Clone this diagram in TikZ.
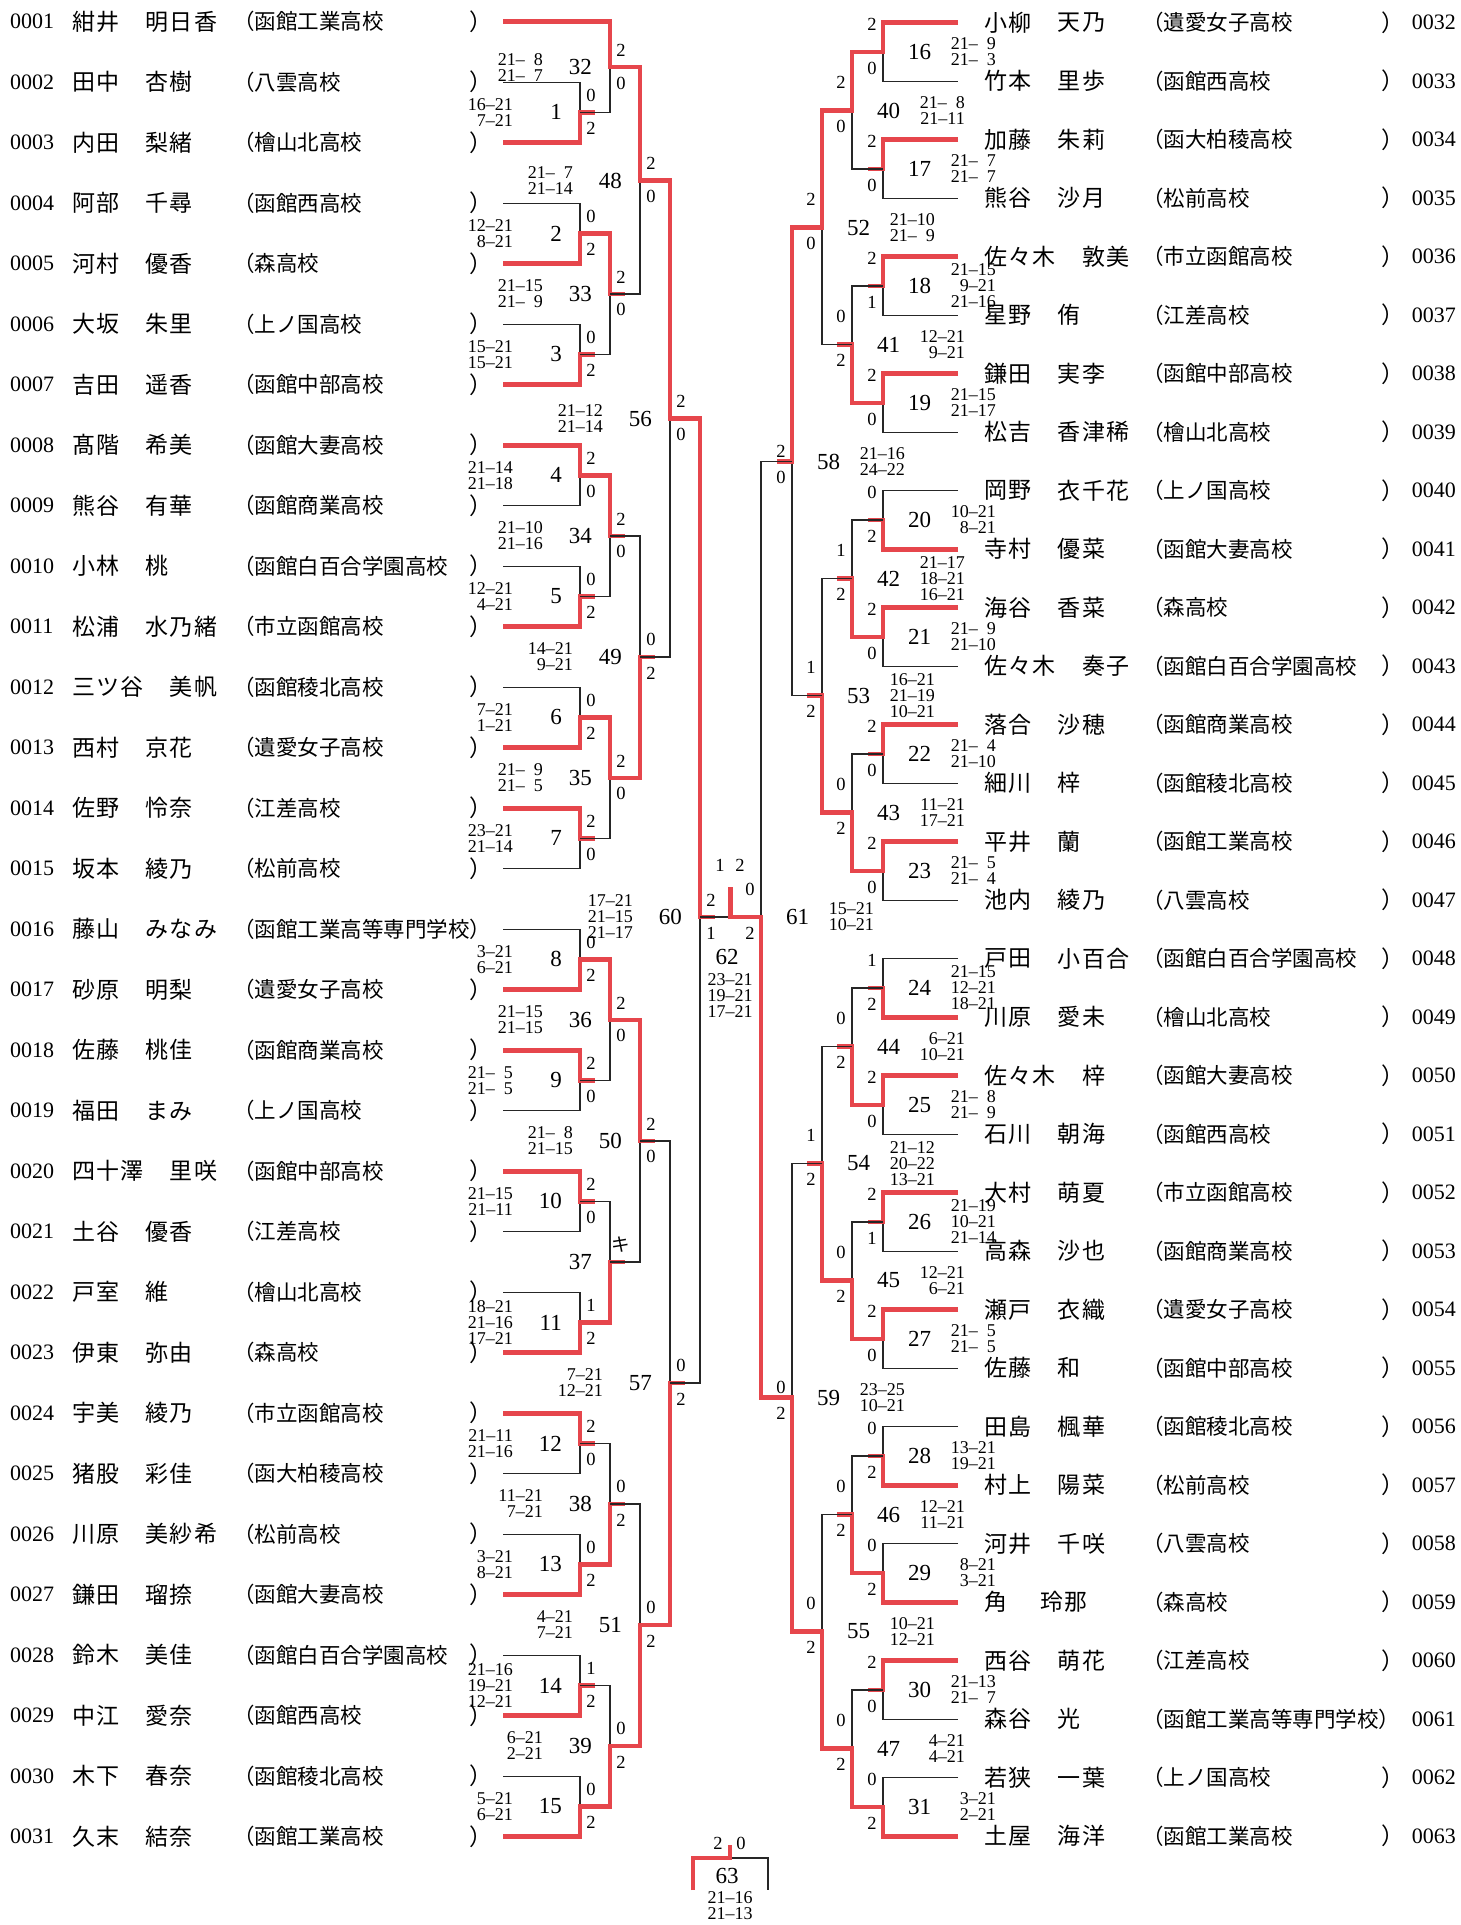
\documentclass[tikz,border=0pt]{standalone}
\usepackage{fontspec}
\setmainfont{Liberation Serif}
\newfontfamily\jp[LetterSpace=6]{Noto Sans CJK JP}
\newfontfamily\jpn{Noto Sans CJK JP}
\definecolor{bred}{RGB}{230,70,76}
\newcommand\fsp{\phantom{0}}
\begin{document}
\begin{tikzpicture}[x=1pt,y=-1pt,
  bl/.style={line width=1.2pt, draw=black!85},
  rd/.style={line width=4.6pt, draw=bred},
  lab/.style={font=\fontsize{18.5}{18.5}\selectfont, inner sep=0pt},
  mnum/.style={font=\fontsize{23}{23}\selectfont, inner sep=0pt},
  scr/.style={font=\fontsize{18}{16}\selectfont, inner sep=0pt, align=right},
  pnum/.style={font=\fontsize{22}{22}\selectfont, inner sep=0pt},
  jtx/.style={font=\jp\fontsize{23}{23}\selectfont, inner sep=0pt, anchor=west},
  jsc/.style={font=\jpn\fontsize{21.5}{21.5}\selectfont, inner sep=0pt, anchor=west}]
\fill[white] (0,0) rectangle (1461,1925);
\useasboundingbox (0,0) rectangle (1461,1925);

% ---------------- left players
\foreach \i/\pn/\sur/\gx/\giv/\sch/\cpp in {
1/0001/紺井/145.2/明日香/（函館工業高校/）,
2/0002/田中/145.2/杏樹/（八雲高校/）,
3/0003/内田/145.2/梨緒/（檜山北高校/）,
4/0004/阿部/145.2/千尋/（函館西高校/）,
5/0005/河村/145.2/優香/（森高校/）,
6/0006/大坂/145.2/朱里/（上ノ国高校/）,
7/0007/吉田/145.2/遥香/（函館中部高校/）,
8/0008/髙階/145.2/希美/（函館大妻高校/）,
9/0009/熊谷/145.2/有華/（函館商業高校/）,
10/0010/小林/145.2/桃/（函館白百合学園高校/）,
11/0011/松浦/145.2/水乃緒/（市立函館高校/）,
12/0012/三ツ谷/169.6/美帆/（函館稜北高校/）,
13/0013/西村/145.2/京花/（遺愛女子高校/）,
14/0014/佐野/145.2/怜奈/（江差高校/）,
15/0015/坂本/145.2/綾乃/（松前高校/）,
16/0016/藤山/145.2/みなみ/（函館工業高等専門学校）/{},
17/0017/砂原/145.2/明梨/（遺愛女子高校/）,
18/0018/佐藤/145.2/桃佳/（函館商業高校/）,
19/0019/福田/145.2/まみ/（上ノ国高校/）,
20/0020/四十澤/169.6/里咲/（函館中部高校/）,
21/0021/土谷/145.2/優香/（江差高校/）,
22/0022/戸室/145.2/維/（檜山北高校/）,
23/0023/伊東/145.2/弥由/（森高校/）,
24/0024/宇美/145.2/綾乃/（市立函館高校/）,
25/0025/猪股/145.2/彩佳/（函大柏稜高校/）,
26/0026/川原/145.2/美紗希/（松前高校/）,
27/0027/鎌田/145.2/瑠捺/（函館大妻高校/）,
28/0028/鈴木/145.2/美佳/（函館白百合学園高校/）,
29/0029/中江/145.2/愛奈/（函館西高校/）,
30/0030/木下/145.2/春奈/（函館稜北高校/）,
31/0031/久末/145.2/結奈/（函館工業高校/）}{
  \pgfmathsetmacro\yy{21.7+(\i-1)*60.5}
  \node[pnum,anchor=west] (n\i) at (10,\yy) {\pn};
  \node[jtx] (sn\i) at (72,\yy) {\sur};
  \node[jtx] (gn\i) at (\gx,\yy) {\giv};
  \node[jsc] (sch\i) at (233,\yy) {\sch};
  \node[jtx] (cp\i) at (469,\yy) {\cpp};
}

% ---------------- right players
\foreach \i/\pn/\sur/\gx/\giv/\sch/\cpp in {
32/0032/小柳/1057.5/天乃/（遺愛女子高校/）,
33/0033/竹本/1057.5/里歩/（函館西高校/）,
34/0034/加藤/1057.5/朱莉/（函大柏稜高校/）,
35/0035/熊谷/1057.5/沙月/（松前高校/）,
36/0036/佐々木/1082/敦美/（市立函館高校/）,
37/0037/星野/1057.5/侑/（江差高校/）,
38/0038/鎌田/1057.5/実李/（函館中部高校/）,
39/0039/松吉/1057.5/香津稀/（檜山北高校/）,
40/0040/岡野/1057.5/衣千花/（上ノ国高校/）,
41/0041/寺村/1057.5/優菜/（函館大妻高校/）,
42/0042/海谷/1057.5/香菜/（森高校/）,
43/0043/佐々木/1082/奏子/（函館白百合学園高校/）,
44/0044/落合/1057.5/沙穂/（函館商業高校/）,
45/0045/細川/1057.5/梓/（函館稜北高校/）,
46/0046/平井/1057.5/蘭/（函館工業高校/）,
47/0047/池内/1057.5/綾乃/（八雲高校/）,
48/0048/戸田/1057.5/小百合/（函館白百合学園高校/）,
49/0049/川原/1057.5/愛未/（檜山北高校/）,
50/0050/佐々木/1082/梓/（函館大妻高校/）,
51/0051/石川/1057.5/朝海/（函館西高校/）,
52/0052/大村/1057.5/萌夏/（市立函館高校/）,
53/0053/高森/1057.5/沙也/（函館商業高校/）,
54/0054/瀬戸/1057.5/衣織/（遺愛女子高校/）,
55/0055/佐藤/1057.5/和/（函館中部高校/）,
56/0056/田島/1057.5/楓華/（函館稜北高校/）,
57/0057/村上/1057.5/陽菜/（松前高校/）,
58/0058/河井/1057.5/千咲/（八雲高校/）,
59/0059/角/1040/玲那/（森高校/）,
60/0060/西谷/1057.5/萌花/（江差高校/）,
61/0061/森谷/1057.5/光/（函館工業高等専門学校）/{},
62/0062/若狭/1057.5/一葉/（上ノ国高校/）,
63/0063/土屋/1057.5/海洋/（函館工業高校/）}{
  \pgfmathsetmacro\yy{22.7+(\i-32)*58.5}
  \node[pnum,anchor=east] (n\i) at (1456,\yy) {\pn};
  \node[jtx] (sn\i) at (984,\yy) {\sur};
  \node[jtx] (gn\i) at (\gx,\yy) {\giv};
  \node[jsc] (sch\i) at (1142,\yy) {\sch};
  \node[jtx] (cp\i) at (1381,\yy) {\cpp};
}

% ---------------- left matches
\foreach \vx/\ax/\ay/\bx/\by/\jy/\wn/\tlab/\blab/\mn/\scs in {
580/503/82.2/503/142.7/112.4/b/0/2/1/{16--21\\7--21},
610/503/21.7/580/112.4/67.1/a/2/0/32/{21--\fsp8\\21--\fsp7},
580/503/203.2/503/263.7/233.4/b/0/2/2/{12--21\\8--21},
580/503/324.2/503/384.7/354.4/b/0/2/3/{15--21\\15--21},
610/580/233.4/580/354.4/293.9/a/2/0/33/{21--15\\21--\fsp9},
640/610/67.1/610/293.9/180.5/a/2/0/48/{21--\fsp7\\21--14},
580/503/445.2/503/505.7/475.4/a/2/0/4/{21--14\\21--18},
580/503/566.2/503/626.7/596.4/b/0/2/5/{12--21\\4--21},
610/580/475.4/580/596.4/535.9/a/2/0/34/{21--10\\21--16},
580/503/687.2/503/747.7/717.4/b/0/2/6/{7--21\\1--21},
580/503/808.2/503/868.7/838.4/a/2/0/7/{23--21\\21--14},
610/580/717.4/580/838.4/777.9/a/2/0/35/{21--\fsp9\\21--\fsp5},
640/610/535.9/610/777.9/656.9/b/0/2/49/{14--21\\9--21},
670/640/180.5/640/656.9/418.7/a/2/0/56/{21--12\\21--14},
580/503/929.2/503/989.7/959.4/b/0/2/8/{3--21\\6--21},
580/503/1050.2/503/1110.7/1080.4/a/2/0/9/{21--\fsp5\\21--\fsp5},
610/580/959.4/580/1080.4/1019.9/a/2/0/36/{21--15\\21--15},
580/503/1171.2/503/1231.7/1201.4/a/2/0/10/{21--15\\21--11},
580/503/1292.2/503/1352.7/1322.4/b/1/2/11/{18--21\\21--16\\17--21},
610/580/1201.4/580/1322.4/1261.9/b/{\jp キ}/{}/37/{},
640/610/1019.9/610/1261.9/1140.9/a/2/0/50/{21--\fsp8\\21--15},
580/503/1413.2/503/1473.7/1443.4/a/2/0/12/{21--11\\21--16},
580/503/1534.2/503/1594.7/1564.4/b/0/2/13/{3--21\\8--21},
610/580/1443.4/580/1564.4/1503.9/b/0/2/38/{11--21\\7--21},
580/503/1655.2/503/1715.7/1685.4/b/1/2/14/{21--16\\19--21\\12--21},
580/503/1776.2/503/1836.7/1806.4/b/0/2/15/{5--21\\6--21},
610/580/1685.4/580/1806.4/1745.9/b/0/2/39/{6--21\\2--21},
640/610/1503.9/610/1745.9/1624.9/b/0/2/51/{4--21\\7--21},
670/640/1140.9/640/1624.9/1382.9/b/0/2/57/{7--21\\12--21},
700/670/418.7/670/1382.9/917/a/2/1/60/{17--21\\21--15\\21--17}}{
  \draw[bl] (\ax,\ay) -- (\vx,\ay) -- (\vx,\by) -- (\bx,\by);
  \if\wn a
    \draw[rd] (\ax,\ay) -- (\vx,\ay) -- (\vx,\jy) -- ++(15,0);
  \else
    \draw[rd] (\bx,\by) -- (\vx,\by) -- (\vx,\jy) -- ++(15,0);
  \fi
  \node[lab] (ta\mn) at (\vx+11,\jy-17) {\tlab};
  \node[lab] (tb\mn) at (\vx+11,\jy+16) {\blab};
  \node[mnum,anchor=east] (m\mn) at (\vx-18,\jy) {\mn};
  \node[scr,anchor=east] (s\mn) at (\vx-67,\jy) {\scs};
}

% ---------------- right matches
\foreach \vx/\ax/\ay/\bx/\by/\jy/\wn/\tlab/\blab/\mn/\scs in {
883/958/22.7/958/81.2/52.0/a/2/0/16/{21--\fsp9\\21--\fsp3},
883/958/139.7/958/198.2/169.0/a/2/0/17/{21--\fsp7\\21--\fsp7},
852/883/52.0/883/169.0/110.5/a/2/0/40/{21--\fsp8\\21--11},
883/958/256.7/958/315.2/286.0/a/2/1/18/{21--15\\9--21\\21--16},
883/958/373.7/958/432.2/403.0/a/2/0/19/{21--15\\21--17},
852/883/286.0/883/403.0/344.5/b/0/2/41/{12--21\\9--21},
822/852/110.5/852/344.5/227.5/a/2/0/52/{21--10\\21--\fsp9},
883/958/490.7/958/549.2/520.0/b/0/2/20/{10--21\\8--21},
883/958/607.7/958/666.2/637.0/a/2/0/21/{21--\fsp9\\21--10},
852/883/520.0/883/637.0/578.5/b/1/2/42/{21--17\\18--21\\16--21},
883/958/724.7/958/783.2/754.0/a/2/0/22/{21--\fsp4\\21--10},
883/958/841.7/958/900.2/871.0/a/2/0/23/{21--\fsp5\\21--\fsp4},
852/883/754.0/883/871.0/812.5/b/0/2/43/{11--21\\17--21},
822/852/578.5/852/812.5/695.5/b/1/2/53/{16--21\\21--19\\10--21},
792/822/227.5/822/695.5/461.5/a/2/0/58/{21--16\\24--22},
883/958/958.7/958/1017.2/988.0/b/1/2/24/{21--15\\12--21\\18--21},
883/958/1075.7/958/1134.2/1105.0/a/2/0/25/{21--\fsp8\\21--\fsp9},
852/883/988.0/883/1105.0/1046.5/b/0/2/44/{6--21\\10--21},
883/958/1192.7/958/1251.2/1222.0/a/2/1/26/{21--19\\10--21\\21--14},
883/958/1309.7/958/1368.2/1339.0/a/2/0/27/{21--\fsp5\\21--\fsp5},
852/883/1222.0/883/1339.0/1280.5/b/0/2/45/{12--21\\6--21},
822/852/1046.5/852/1280.5/1163.5/b/1/2/54/{21--12\\20--22\\13--21},
883/958/1426.7/958/1485.2/1456.0/b/0/2/28/{13--21\\19--21},
883/958/1543.7/958/1602.2/1573.0/b/0/2/29/{8--21\\3--21},
852/883/1456.0/883/1573.0/1514.5/b/0/2/46/{12--21\\11--21},
883/958/1660.7/958/1719.2/1690.0/a/2/0/30/{21--13\\21--\fsp7},
883/958/1777.7/958/1836.2/1807.0/b/0/2/31/{3--21\\2--21},
852/883/1690.0/883/1807.0/1748.5/b/0/2/47/{4--21\\4--21},
822/852/1514.5/852/1748.5/1631.5/b/0/2/55/{10--21\\12--21},
792/822/1163.5/822/1631.5/1397.5/b/0/2/59/{23--25\\10--21},
761/792/461.5/792/1397.5/917/b/0/2/61/{15--21\\10--21}}{
  \draw[bl] (\ax,\ay) -- (\vx,\ay) -- (\vx,\by) -- (\bx,\by);
  \if\wn a
    \draw[rd] (\ax,\ay) -- (\vx,\ay) -- (\vx,\jy) -- ++(-15,0);
  \else
    \draw[rd] (\bx,\by) -- (\vx,\by) -- (\vx,\jy) -- ++(-15,0);
  \fi
  \pgfmathsetmacro\toff{\vx==792 ? 10 : 28}
  \node[lab] (ta\mn) at (\vx-11,\jy-\toff) {\tlab};
  \node[lab] (tb\mn) at (\vx-11,\jy+16) {\blab};
  \node[mnum,anchor=west] (m\mn) at (\vx+25,\jy) {\mn};
  \node[scr,anchor=east] (s\mn) at (\vx+113,\jy) {\scs};
}

% ---------------- final 62
\coordinate (fL) at (700,917);
\coordinate (fR) at (761,917);
\coordinate (fC) at (730.5,917);
\coordinate (fT) at (730.5,887);
\draw[bl] (fL) -- (fR);
\draw[rd] (fR) -- (fC) -- (fT);
\node[lab] (f1) at (720,865) {1};
\node[lab] (f2) at (740,865) {2};
\node[mnum] (m62) at (727,957) {62};
\node[scr,align=center] (s62) at (730,996) {23--21\\19--21\\17--21};

% ---------------- match 63
\coordinate (tA) at (693,1890);
\coordinate (tB) at (693,1858);
\coordinate (tK) at (730,1858);
\coordinate (tT) at (730,1845);
\coordinate (tD) at (768,1858);
\coordinate (tE) at (768,1890);
\draw[bl] (tK) -- (tD) -- (tE);
\draw[rd] (tA) -- (tB) -- (tK) -- (tT);
\node[lab] (g1) at (718,1843) {2};
\node[lab] (g2) at (741,1843) {0};
\node[mnum] (m63) at (727,1876) {63};
\node[scr,align=center] (s63) at (730,1906) {21--16\\21--13};
\end{tikzpicture}
\end{document}
